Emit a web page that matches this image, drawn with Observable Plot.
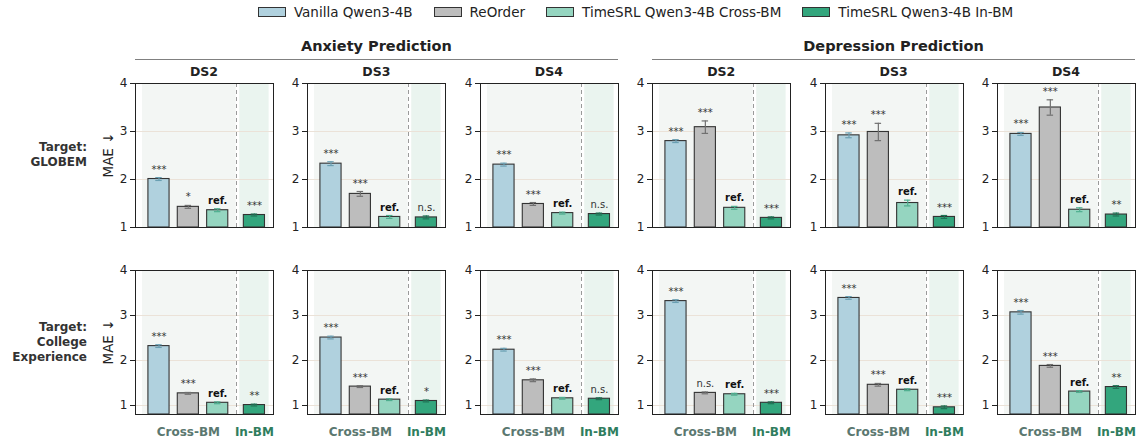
<!DOCTYPE html>
<html><head><meta charset="utf-8">
<script src="https://cdn.jsdelivr.net/npm/d3@7"></script>
<script src="https://cdn.jsdelivr.net/npm/@observablehq/plot@0.6"></script>
<style>
body{margin:0;background:#fff;font-family:"DejaVu Sans",sans-serif;}
#root{position:relative;width:1136px;height:440px;overflow:hidden;background:#fff;}
.abs{position:absolute;white-space:nowrap;}
</style></head><body><div id="root"></div>
<script>
// ---------- data ----------
const methods = ["Vanilla Qwen3-4B", "ReOrder", "TimeSRL Qwen3-4B Cross-BM", "TimeSRL Qwen3-4B In-BM"];
const tasks = ["Anxiety Prediction", "Depression Prediction"];
const datasets = ["DS2", "DS3", "DS4"];
const targets = [["Target:", "GLOBEM"], ["Target:", "College", "Experience"]];
const groupLabels = ["Cross-BM", "In-BM"];
const yTicks = [1, 2, 3, 4];
const yLabel = "MAE \u2193";

// panels order: Anx DS2, Anx DS3, Anx DS4, Dep DS2, Dep DS3, Dep DS4 ; values per method
const maeGLOBEM = [
  [2.01, 1.43, 1.36, 1.26],
  [2.33, 1.70, 1.22, 1.21],
  [2.31, 1.49, 1.30, 1.28],
  [2.80, 3.09, 1.41, 1.20],
  [2.92, 2.99, 1.51, 1.22],
  [2.95, 3.50, 1.37, 1.27]
];
const errGLOBEM = [
  [0.03, 0.03, 0.03, 0.02],
  [0.04, 0.05, 0.03, 0.03],
  [0.03, 0.03, 0.02, 0.02],
  [0.03, 0.13, 0.03, 0.02],
  [0.05, 0.18, 0.06, 0.03],
  [0.03, 0.16, 0.04, 0.03]
];
const sigGLOBEM = [
  ["***", "*", "ref.", "***"],
  ["***", "***", "ref.", "n.s."],
  ["***", "***", "ref.", "n.s."],
  ["***", "***", "ref.", "***"],
  ["***", "***", "ref.", "***"],
  ["***", "***", "ref.", "**"]
];
const maeCollege = [
  [2.32, 1.27, 1.06, 1.01],
  [2.51, 1.42, 1.13, 1.10],
  [2.24, 1.56, 1.16, 1.15],
  [3.32, 1.28, 1.25, 1.06],
  [3.39, 1.46, 1.35, 0.96],
  [3.07, 1.88, 1.31, 1.41]
];
const errCollege = [
  [0.03, 0.02, 0.02, 0.02],
  [0.03, 0.02, 0.02, 0.02],
  [0.03, 0.03, 0.02, 0.02],
  [0.03, 0.02, 0.02, 0.02],
  [0.03, 0.03, 0.02, 0.03],
  [0.04, 0.03, 0.02, 0.03]
];
const sigCollege = [
  ["***", "***", "ref.", "**"],
  ["***", "***", "ref.", "*"],
  ["***", "***", "ref.", "n.s."],
  ["***", "n.s.", "ref.", "***"],
  ["***", "***", "ref.", "***"],
  ["***", "***", "ref.", "**"]
];

// ---------- styling / layout ----------
const barColors = ["#b0d1de", "#bdbdbd", "#95d5c0", "#33a67d"];
const errColors = ["#6a9fb2", "#707070", "#4fae8f", "#1f7355"];
const groupColors = ["#5b7870", "#2f7d5e"];
const barPos = [0, 1, 2, 3.25];
const groupPos = [1, 3.25];
const rows = [
  {mae: maeGLOBEM, err: errGLOBEM, sig: sigGLOBEM, yDom: [1, 4], top: 83},
  {mae: maeCollege, err: errCollege, sig: sigCollege, yDom: [0.8, 4], top: 270}
];
const P0 = 135, PSTEP = 172.4, PW = 138, PH = 144;
const ML = 30, MR = 6, MT = 8;
const root = document.getElementById("root");

function addDiv(html, css) {
  const d = document.createElement("div");
  d.className = "abs";
  d.innerHTML = html;
  Object.assign(d.style, css);
  root.appendChild(d);
  return d;
}

rows.forEach((row, r) => {
  const MB = r === 1 ? 28 : 6;
  const ylo = row.yDom[0];
  for (let p = 0; p < 6; p++) {
    const data = methods.map((m, i) => ({
      method: m, pos: barPos[i], v: row.mae[p][i], e: row.err[p][i],
      sig: row.sig[p][i], fill: barColors[i], ecol: errColors[i]
    }));
    const marks = [
      Plot.rect([0], {x1: -0.56, x2: 2.63, y1: ylo, y2: 4, fill: "#f3f6f4"}),
      Plot.rect([0], {x1: 2.75, x2: 3.75, y1: ylo, y2: 4, fill: "#eaf4ef"}),
      Plot.ruleY([1, 2, 3], {stroke: "#ebe2d8", strokeWidth: 1}),
      Plot.ruleX([2.64], {stroke: "#9a9a9a", strokeDasharray: "4,3", strokeWidth: 1}),
      Plot.rect(data, {x1: d => d.pos - 0.36, x2: d => d.pos + 0.36, y1: ylo, y2: "v",
        fill: "fill", stroke: "#333", strokeWidth: 1.1}),
      Plot.ruleX(data, {x: "pos", y1: d => d.v - d.e, y2: d => d.v + d.e, stroke: "ecol", strokeWidth: 1.2}),
      Plot.ruleY(data, {y: d => d.v + d.e, x1: d => d.pos - 0.11, x2: d => d.pos + 0.11, stroke: "ecol", strokeWidth: 1.2}),
      Plot.ruleY(data, {y: d => d.v - d.e, x1: d => d.pos - 0.11, x2: d => d.pos + 0.11, stroke: "ecol", strokeWidth: 1.2}),
      Plot.text(data.filter(d => d.sig !== "ref."), {x: "pos", y: d => d.v + d.e, text: "sig",
        dy: -5, lineAnchor: "bottom", fontSize: 10, fill: "#333"}),
      Plot.text(data.filter(d => d.sig === "ref."), {x: "pos", y: d => d.v + d.e, text: "sig",
        dy: -5, lineAnchor: "bottom", fontSize: 10, fontWeight: "bold", fill: "#111"}),
      Plot.frame({stroke: "#222", strokeWidth: 1})
    ];
    if (r === 1) {
      marks.push(Plot.text(groupLabels, {x: (d, i) => groupPos[i], y: ylo, text: d => d, dy: 18,
        fontSize: 12, fontWeight: "bold", fill: (d, i) => groupColors[i]}));
    }
    const chart = Plot.plot({
      width: ML + PW + MR, height: MT + PH + MB,
      marginLeft: ML, marginRight: MR, marginTop: MT, marginBottom: MB,
      x: {domain: [-0.8, 3.9], axis: null},
      y: {domain: row.yDom, ticks: yTicks, tickSize: 5, tickPadding: 3, label: null, tickFormat: d => String(d)},
      color: {type: "identity"},
      style: {background: "transparent", fontFamily: "DejaVu Sans", fontSize: "12px", color: "#222", overflow: "visible"},
      marks
    });
    const left = P0 + p * PSTEP - ML;
    chart.style.position = "absolute";
    chart.style.left = left + "px";
    chart.style.top = (row.top - MT) + "px";
    root.appendChild(chart);

    if (r === 0) {
      addDiv(datasets[p % 3], {left: (P0 + p * PSTEP + PW / 2) + "px", top: "71px",
        transform: "translate(-50%,-50%)", fontWeight: "bold", fontSize: "12.5px", color: "#222"});
    }
  }
  // row label
  addDiv(targets[r].join("<br>"), {right: (1136 - 87) + "px", top: (row.top + PH / 2) + "px",
    transform: "translateY(-50%)", textAlign: "right", fontWeight: "bold", fontSize: "12px",
    lineHeight: "15px", color: "#333"});
  addDiv(yLabel, {left: "108px", top: (row.top + PH / 2) + "px",
    transform: "translate(-50%,-50%) rotate(-90deg)", fontSize: "13.5px", color: "#222"});
});

// task titles
tasks.forEach((t, k) => {
  const x1 = P0 + k * 3 * PSTEP, x2 = P0 + (k * 3 + 2) * PSTEP + PW;
  addDiv(t, {left: ((x1 + x2) / 2) + "px", top: "46px", transform: "translate(-50%,-50%)",
    fontWeight: "bold", fontSize: "14.5px", color: "#222"});
  addDiv("", {left: x1 + "px", top: "59px", width: (x2 - x1) + "px", height: "0px",
    borderTop: "1.2px solid #808080"});
});

// legend
const leg = addDiv("", {left: P0 + "px", width: (1136 - P0) + "px", top: "12px", transform: "translateY(-50%)",
  display: "flex", justifyContent: "center", alignItems: "center", fontSize: "13.5px", color: "#222"});
methods.forEach((m, i) => {
  const it = document.createElement("div");
  it.style.cssText = `display:flex;align-items:center;margin:0 10.5px;`;
  it.innerHTML = `<span style="display:inline-block;width:26px;height:8px;background:${barColors[i]};border:1px solid #333;margin-right:8px"></span><span>${m}</span>`;
  leg.appendChild(it);
});
</script></body></html>
